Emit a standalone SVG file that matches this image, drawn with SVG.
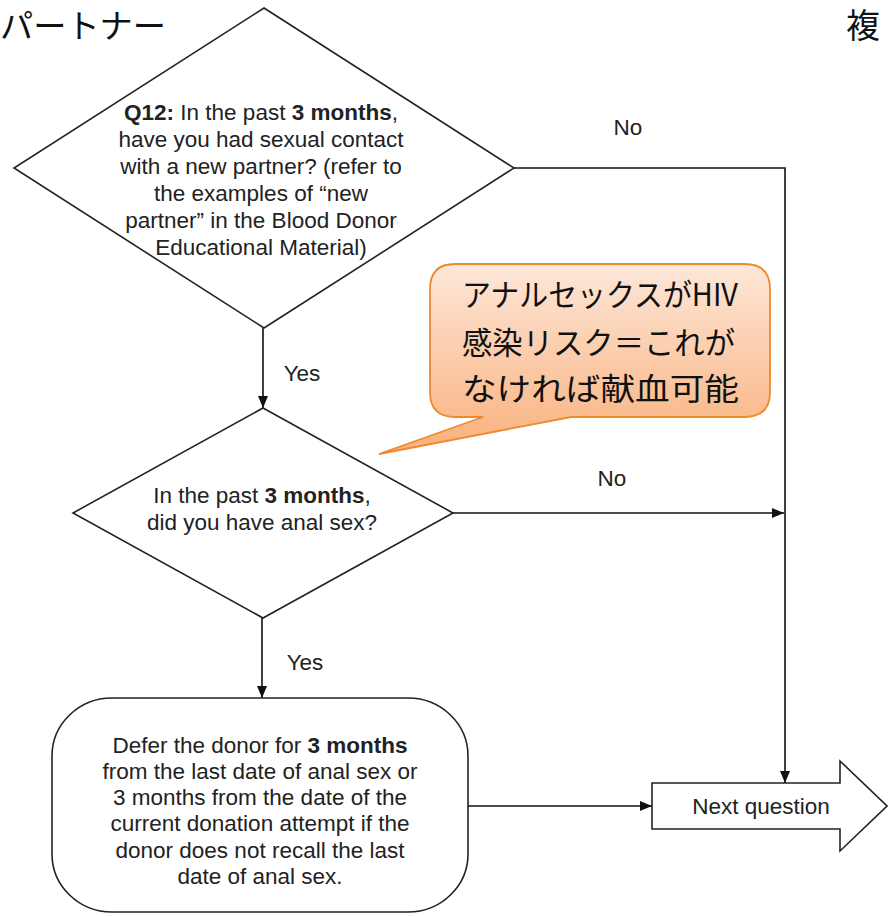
<svg xmlns="http://www.w3.org/2000/svg" width="888" height="916" viewBox="0 0 888 916">
<defs>
<marker id="ah" viewBox="0 0 12 10" refX="12" refY="5" markerWidth="12" markerHeight="10" markerUnits="userSpaceOnUse" orient="auto">
<path d="M0,0 L12,5 L0,10 Z" fill="#111"/>
</marker>
<linearGradient id="cg" x1="0" y1="0" x2="0" y2="1">
<stop offset="0" stop-color="#FDE7D8"/>
<stop offset="1" stop-color="#F9B07C"/>
</linearGradient>
<style>
.shape{fill:#fff;stroke:#222;stroke-width:1.6}
.conn{fill:none;stroke:#111;stroke-width:1.6}
.t{font-family:"Liberation Sans",Arial,sans-serif;font-size:22.5px;fill:#222;text-anchor:middle}
.b{font-weight:bold}
.jp{font-family:"Noto Sans CJK JP",sans-serif;fill:#111}
</style>
</defs>
<rect width="888" height="916" fill="#fff"/>
<text class="jp" x="0" y="38" font-size="33" textLength="166" lengthAdjust="spacingAndGlyphs">パートナー</text>
<text class="jp" x="846" y="38" font-size="34">複</text>
<g id="connectors">
<polyline class="conn" points="513,168 785,168 785,783" marker-end="url(#ah)"/>
<line class="conn" x1="453" y1="513" x2="784" y2="513" marker-end="url(#ah)"/>
<line class="conn" x1="263" y1="328" x2="263" y2="408" marker-end="url(#ah)"/>
<line class="conn" x1="262" y1="617" x2="262" y2="698" marker-end="url(#ah)"/>
<line class="conn" x1="468" y1="806" x2="652" y2="806" marker-end="url(#ah)"/>
<text class="t" x="628" y="135">No</text>
<text class="t" x="612" y="486">No</text>
<text class="t" x="302" y="381">Yes</text>
<text class="t" x="305" y="670">Yes</text>
</g>
<g id="q12">
<polygon class="shape" points="264,8 514,168 264,328 14,168"/>
<text class="t" x="261" y="120"><tspan class="b">Q12:</tspan> In the past <tspan class="b">3 months</tspan>,</text>
<text class="t" x="261" y="147">have you had sexual contact</text>
<text class="t" x="261" y="174">with a new partner? (refer to</text>
<text class="t" x="261" y="201">the examples of “new</text>
<text class="t" x="261" y="228">partner” in the Blood Donor</text>
<text class="t" x="261" y="255">Educational Material)</text>
</g>
<g id="anal">
<polygon class="shape" points="263,408 453,513 263,618 73,513"/>
<text class="t" x="262" y="503">In the past <tspan class="b">3 months</tspan>,</text>
<text class="t" x="262" y="530">did you have anal sex?</text>
</g>
<g id="defer">
<rect class="shape" x="52" y="698" width="416" height="214" rx="60" ry="58"/>
<text class="t" x="260" y="753">Defer the donor for <tspan class="b">3 months</tspan></text>
<text class="t" x="260" y="779">from the last date of anal sex or</text>
<text class="t" x="260" y="805">3 months from the date of the</text>
<text class="t" x="260" y="831">current donation attempt if the</text>
<text class="t" x="260" y="858">donor does not recall the last</text>
<text class="t" x="260" y="884">date of anal sex.</text>
</g>
<g id="next">
<polygon class="shape" points="652,783 840,783 840,761 887,806 840,851 840,829 652,829"/>
<text class="t" x="761" y="814">Next question</text>
</g>
<g id="callout">
<path d="M455,264 H745 Q770,264 770,289 V392 Q770,417 745,417 H571 L379,454 L483,417 H455 Q430,417 430,392 V289 Q430,264 455,264 Z" fill="url(#cg)" stroke="#EE8A2E" stroke-width="1.8"/>
<text class="jp" x="462" y="306" font-size="31" textLength="276" lengthAdjust="spacingAndGlyphs">アナルセックスがHIV</text>
<text class="jp" x="462" y="354" font-size="31" textLength="273" lengthAdjust="spacingAndGlyphs">感染リスク＝これが</text>
<text class="jp" x="462" y="400" font-size="31" textLength="277" lengthAdjust="spacingAndGlyphs">なければ献血可能</text>
</g>
</svg>
